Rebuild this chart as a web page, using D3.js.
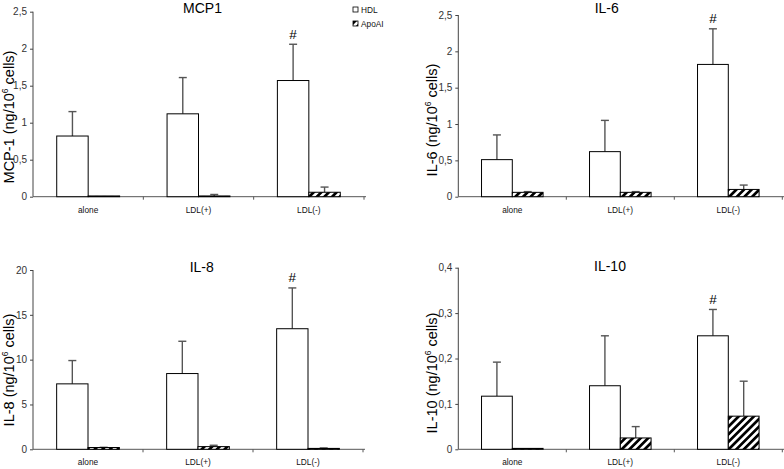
<!DOCTYPE html>
<html><head><meta charset="utf-8">
<script src="https://cdn.jsdelivr.net/npm/d3@7"></script>
<style>body{margin:0;background:#fff}svg{display:block;font-family:Arial,"Liberation Sans",sans-serif}</style>
</head><body>
<svg id="c" width="784" height="469"></svg>
<script>
const categories = ["alone", "LDL(+)", "LDL(-)"];
const seriesNames = ["HDL", "ApoAI"];

const mcp1HDL = [0.82, 1.12, 1.57];
const mcp1HDLsd = [0.33, 0.49, 0.49];
const mcp1Apo = [0.01, 0.01, 0.06];
const mcp1Aposd = [0, 0.02, 0.07];

const il6HDL = [0.51, 0.62, 1.82];
const il6HDLsd = [0.34, 0.43, 0.49];
const il6Apo = [0.06, 0.06, 0.10];
const il6Aposd = [0.01, 0.01, 0.06];

const il8HDL = [7.3, 8.45, 13.45];
const il8HDLsd = [2.6, 3.6, 4.55];
const il8Apo = [0.2, 0.3, 0.1];
const il8Aposd = [0.02, 0.15, 0.05];

const il10HDL = [0.117, 0.14, 0.25];
const il10HDLsd = [0.075, 0.11, 0.058];
const il10Apo = [0.002, 0.025, 0.073];
const il10Aposd = [0, 0.025, 0.077];

const mcp1Ticks = [0, 0.5, 1, 1.5, 2, 2.5];
const il6Ticks = [0, 0.5, 1, 1.5, 2, 2.5];
const il8Ticks = [0, 5, 10, 15, 20];
const il10Ticks = [0, 0.1, 0.2, 0.3, 0.4];

const sigMark = [false, false, true];

const panels = [
  {title: "MCP1", ylab: "MCP-1", hdl: mcp1HDL, hsd: mcp1HDLsd, apo: mcp1Apo, asd: mcp1Aposd, ticks: mcp1Ticks,
   ax: 33, ax2: 364, top: 11.7, bot: 196.7, tx: 202.5, ty: 12.5, lx: 13.5, ly: 117, xly: 213},
  {title: "IL-6", ylab: "IL-6", hdl: il6HDL, hsd: il6HDLsd, apo: il6Apo, asd: il6Aposd, ticks: il6Ticks,
   ax: 458.3, ax2: 782.3, top: 15, bot: 196.7, tx: 606.7, ty: 13, lx: 436.5, ly: 120, xly: 213},
  {title: "IL-8", ylab: "IL-8", hdl: il8HDL, hsd: il8HDLsd, apo: il8Apo, asd: il8Aposd, ticks: il8Ticks,
   ax: 33, ax2: 363, top: 270, bot: 449.3, tx: 201.7, ty: 271.5, lx: 13.5, ly: 370, xly: 465},
  {title: "IL-10", ylab: "IL-10", hdl: il10HDL, hsd: il10HDLsd, apo: il10Apo, asd: il10Aposd, ticks: il10Ticks,
   ax: 458.3, ax2: 782.3, top: 267.7, bot: 449.3, tx: 610, ty: 270.7, lx: 436.5, ly: 373, xly: 465}
];

const svg = d3.select("#c");
const defs = svg.append("defs");
const pat = defs.append("pattern").attr("id", "hatch").attr("patternUnits", "userSpaceOnUse")
  .attr("width", 5.4).attr("height", 5.4).attr("patternTransform", "rotate(45)");
pat.append("rect").attr("width", 5.4).attr("height", 5.4).attr("fill", "#fff");
pat.append("rect").attr("width", 2.7).attr("height", 5.4).attr("fill", "#000");

const fmt = v => String(v).replace(".", ",");

panels.forEach(p => {
  const g = svg.append("g");
  const x = d3.scaleBand().domain(categories).range([p.ax, p.ax2]);
  const y = d3.scaleLinear().domain([p.ticks[0], p.ticks[p.ticks.length - 1]]).range([p.bot, p.top]);
  const bw = x.bandwidth() * 0.285;

  // y axis
  const ya = g.append("g").attr("transform", `translate(${p.ax},0)`)
    .call(d3.axisLeft(y).tickValues(p.ticks).tickFormat(fmt).tickSize(3).tickPadding(3));
  ya.select(".domain").attr("stroke", "#444").attr("d", `M0,${p.top}V${p.bot}`);
  ya.selectAll(".tick line").attr("stroke", "#444");
  ya.selectAll("text").attr("font-size", 10).attr("fill", "#333").attr("font-family", "Arial, 'Liberation Sans', sans-serif");

  // x axis
  const xa = g.append("g").attr("transform", `translate(0,${p.bot})`)
    .call(d3.axisBottom(x).tickSize(0).tickPadding(0));
  xa.select(".domain").attr("stroke", "#555").attr("d", `M${p.ax},0H${p.ax2 + 2}`);
  xa.selectAll(".tick text").remove();
  const bounds = categories.map(c => x(c) + x.bandwidth());
  g.selectAll(".xt").data(bounds).enter().append("line")
    .attr("x1", d => d).attr("x2", d => d).attr("y1", p.bot).attr("y2", p.bot + 3).attr("stroke", "#555");
  g.selectAll(".xl").data(categories).enter().append("text")
    .attr("x", d => x(d) + x.bandwidth() / 2).attr("y", p.xly)
    .attr("text-anchor", "middle").attr("font-size", 8.3).attr("fill", "#111").text(d => d);

  const cx = c => x(c) + x.bandwidth() / 2;

  // error bars
  const errs = [];
  categories.forEach((c, i) => {
    errs.push({x: cx(c) - bw / 2, v: p.hdl[i], sd: p.hsd[i]});
    errs.push({x: cx(c) + bw / 2, v: p.apo[i], sd: p.asd[i]});
  });
  const eg = g.selectAll(".err").data(errs.filter(d => d.sd > 0)).enter().append("g");
  eg.append("line").attr("x1", d => d.x).attr("x2", d => d.x)
    .attr("y1", d => y(d.v)).attr("y2", d => y(d.v + d.sd)).attr("stroke", "#555").attr("stroke-width", 1.4);
  eg.append("line").attr("x1", d => d.x - 4).attr("x2", d => d.x + 4)
    .attr("y1", d => y(d.v + d.sd)).attr("y2", d => y(d.v + d.sd)).attr("stroke", "#555").attr("stroke-width", 1.4);

  // bars
  g.selectAll(".hdl").data(categories).enter().append("rect")
    .attr("x", c => cx(c) - bw).attr("width", bw)
    .attr("y", (c, i) => y(p.hdl[i])).attr("height", (c, i) => y(0) - y(p.hdl[i]))
    .attr("fill", "#fff").attr("stroke", "#000").attr("stroke-width", 1);
  g.selectAll(".apo").data(categories).enter().append("rect")
    .attr("x", c => cx(c)).attr("width", bw)
    .attr("y", (c, i) => y(p.apo[i])).attr("height", (c, i) => y(0) - y(p.apo[i]))
    .attr("fill", "url(#hatch)").attr("stroke", "#000").attr("stroke-width", 1);

  // significance marks
  categories.forEach((c, i) => {
    if (sigMark[i]) {
      g.append("text").attr("x", cx(c) - bw / 2).attr("y", y(p.hdl[i] + p.hsd[i]) - 5.5)
        .attr("text-anchor", "middle").attr("font-size", 13.5).attr("fill", "#000").text("#");
    }
  });

  // title
  g.append("text").attr("x", p.tx).attr("y", p.ty).attr("text-anchor", "middle")
    .attr("font-size", 14).attr("fill", "#000").text(p.title);

  // y label
  const yl = g.append("text").attr("transform", `translate(${p.lx},${p.ly}) rotate(-90)`)
    .attr("text-anchor", "middle").attr("font-size", 14.5).attr("fill", "#000");
  yl.append("tspan").text(p.ylab + " (ng/10");
  yl.append("tspan").attr("font-size", 8.5).attr("dy", -5.5).text("6");
  yl.append("tspan").attr("dy", 5.5).text(" cells)");
});

// legend
const legend = svg.append("g");
const legY = [10, 24];
seriesNames.forEach((s, i) => {
  legend.append("rect").attr("x", 353).attr("y", legY[i] - 3).attr("width", 5).attr("height", 5)
    .attr("fill", i === 0 ? "#fff" : "url(#hatch)").attr("stroke", "#000").attr("stroke-width", 0.8);
  legend.append("text").attr("x", 361).attr("y", legY[i] + 2.5).attr("font-size", 8.3).attr("fill", "#111").text(s);
});
</script>
</body></html>
